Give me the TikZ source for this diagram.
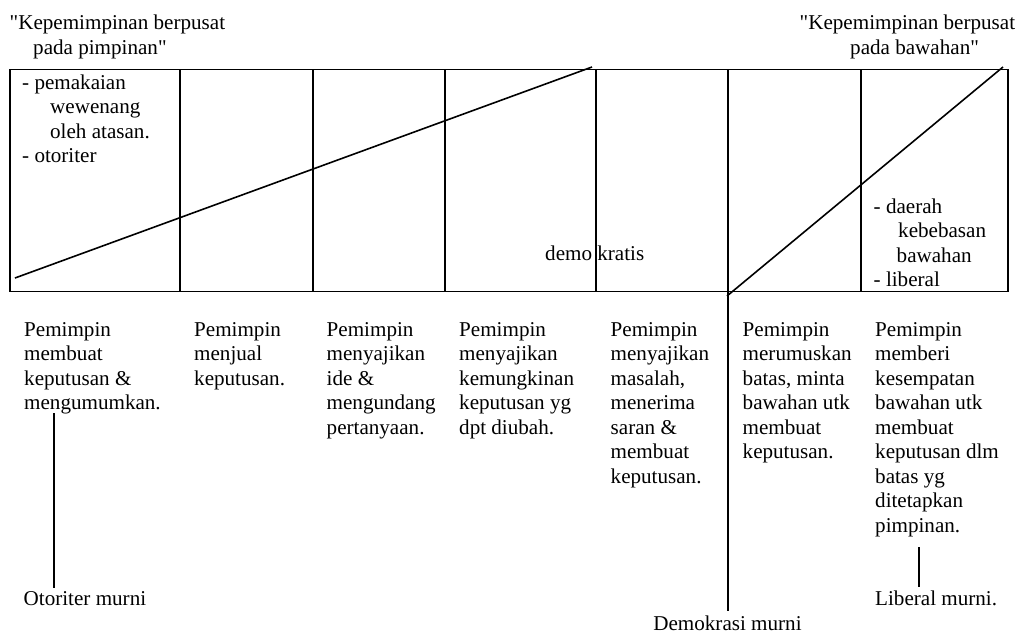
\documentclass[tikz,border=0pt]{standalone}
\usepackage{fontspec}
\setmainfont{Liberation Serif}[Ligatures=TeXOff]
% stacked lines whose baseline is that of the first line
\newcommand{\stack}[1]{\begin{tabular}[t]{@{}l@{}}#1\end{tabular}}
\begin{document}
\begin{tikzpicture}[x=1pt,y=-1pt,
  frame/.style={line width=1.8pt},
  slope/.style={line width=1.6pt},
  pointer/.style={line width=1.8pt},
  txt/.style={anchor=base west, inner sep=0pt,
    font=\fontsize{21.1}{24.5}\selectfont},
  ctxt/.style={txt, anchor=base}]
\useasboundingbox (0,0) rectangle (1020,634);

% continuum box with its column dividers
\draw[frame] (10,69.5) rectangle (1008,291.5);
\foreach \x in {180,313,445,596,861}
  \draw[frame] (\x,69.5) -- (\x,291.5);

% diagonal boundaries of the leader's / subordinates' areas
\coordinate (s1a) at (15,278);
\coordinate (s1b) at (592,67);
\coordinate (s2a) at (727,296);
\coordinate (s2b) at (1003,67);
\draw[slope] (s1a) -- (s1b);
\draw[slope] (s2a) -- (s2b);

% headings
\node[txt] (hl) at (9.5,30) {\stack{"Kepemimpinan berpusat\\\hspace*{23.5pt}pada pimpinan"}};
\node[txt] (hr) at (799.5,30) {\stack{"Kepemimpinan berpusat\\\hspace*{50.5pt}pada bawahan"}};

% labels inside the box
\node[txt] (inl) at (22,89) {\stack{- pemakaian\\\hspace*{28pt}wewenang\\\hspace*{28pt}oleh atasan.\\- otoriter}};
\node[txt] (inr) at (873.5,213.3) {\stack{- daerah\\\hspace*{24.5pt}kebebasan\\\hspace*{23pt}bawahan\\- liberal}};
\node[txt] (demo) at (545,260) {demo kratis};

% behaviour descriptions under each column
\node[txt] (c1) at (24,336) {\stack{Pemimpin\\membuat\\keputusan \&\\mengumumkan.}};
\node[txt] (c2) at (194,336) {\stack{Pemimpin\\menjual\\keputusan.}};
\node[txt] (c3) at (326.5,336) {\stack{Pemimpin\\menyajikan\\ide \&\\mengundang\\pertanyaan.}};
\node[txt] (c4) at (459,336) {\stack{Pemimpin\\menyajikan\\kemungkinan\\keputusan yg\\dpt diubah.}};
\node[txt] (c5) at (610.5,336) {\stack{Pemimpin\\menyajikan\\masalah,\\menerima\\saran \&\\membuat\\keputusan.}};
\node[txt] (c6) at (742.5,336) {\stack{Pemimpin\\merumuskan\\batas, minta\\bawahan utk\\membuat\\keputusan.}};
\node[txt] (c7) at (875,336) {\stack{Pemimpin\\memberi\\kesempatan\\bawahan utk\\membuat\\keputusan dlm\\batas yg\\ditetapkan\\pimpinan.}};

% extremes and midpoint of the continuum
\node[txt] (oto) at (23.5,605) {Otoriter murni};
\node[ctxt] (dem) at (727.5,630) {Demokrasi murni};
\node[txt] (lib) at (875,605) {Liberal murni.};

\coordinate (otoA) at (54.3,413);
\coordinate (demA) at (728,69.5);
\coordinate (libA) at (919,547);
\draw[pointer, shorten >=3pt] (otoA) -- (otoA |- oto.north);
\draw[frame, shorten >=4pt] (demA) -- (demA |- dem.north);
\draw[pointer, shorten >=3pt] (libA) -- (libA |- lib.north);
\end{tikzpicture}
\end{document}
